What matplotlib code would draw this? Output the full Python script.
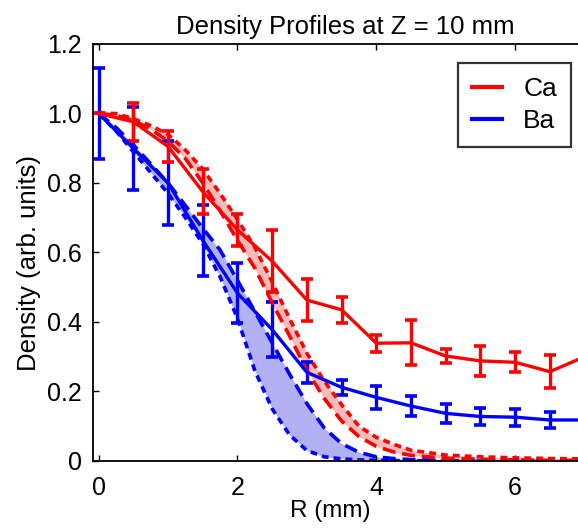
import matplotlib
matplotlib.use('Agg')
import matplotlib.pyplot as plt
from matplotlib.lines import Line2D
from matplotlib.ticker import FixedLocator, FuncFormatter

plt.rcParams['font.family'] = ['Liberation Sans', 'DejaVu Sans']

# measured profiles (points with error bars)
r_meas = [0, 0.5, 1.0, 1.5, 2.0, 2.5, 3.0, 3.5, 4.0, 4.5, 5.0, 5.5, 6.0, 6.5, 7.0]
ca_meas = [1.0, 0.976, 0.905, 0.775, 0.665, 0.575, 0.463, 0.435, 0.339, 0.340, 0.302, 0.288, 0.284, 0.257, 0.30]
ca_err = [0.0, 0.055, 0.045, 0.065, 0.045, 0.09, 0.06, 0.037, 0.024, 0.065, 0.021, 0.043, 0.029, 0.048, 0.04]
ba_meas = [1.0, 0.90, 0.80, 0.635, 0.483, 0.378, 0.255, 0.212, 0.183, 0.158, 0.137, 0.128, 0.126, 0.118, 0.118]
ba_err = [0.131, 0.12, 0.12, 0.102, 0.086, 0.08, 0.03, 0.022, 0.034, 0.028, 0.028, 0.024, 0.024, 0.024, 0.024]

# model curves (upper / lower bounds)
r_model = [0, 0.25, 0.5, 0.75, 1.0, 1.25, 1.5, 1.75, 2.0, 2.25, 2.5, 2.75, 3.0, 3.25, 3.5,
           3.75, 4.0, 4.25, 4.5, 5.0, 5.5, 6.0, 6.5, 7.0]
ca_hi = [1.0, 1.0, 0.985, 0.965, 0.94, 0.895, 0.84, 0.77, 0.695, 0.615, 0.515, 0.41, 0.31, 0.23,
         0.162, 0.1, 0.068, 0.048, 0.031, 0.017, 0.012, 0.009, 0.007, 0.006]
ca_lo = [1.0, 0.995, 0.98, 0.955, 0.92, 0.87, 0.80, 0.72, 0.635, 0.555, 0.455, 0.36, 0.26, 0.18,
         0.115, 0.07, 0.042, 0.026, 0.016, 0.008, 0.005, 0.003, 0.002, 0.002]
ba_hi = [1.0, 0.96, 0.91, 0.855, 0.80, 0.735, 0.67, 0.607, 0.52, 0.43, 0.34, 0.25, 0.165, 0.095,
         0.05, 0.025, 0.012, 0.007, 0.004, 0.002, 0.001, 0.001, 0.0, 0.0]
ba_lo = [1.0, 0.95, 0.89, 0.83, 0.77, 0.70, 0.625, 0.53, 0.41, 0.26, 0.15, 0.075, 0.03, 0.012,
         0.006, 0.003, 0.002, 0.001, 0.001, 0.0, 0.0, 0.0, 0.0, 0.0]

long_dash = (3.6, 1.9)
short_dash = (1.9, 1.4)

fig = plt.figure(figsize=(5.78, 5.32), dpi=100)
ax = fig.add_axes([0.1604, 0.1335, 0.851, 0.7838])

# Ba
ax.fill_between(r_model, ba_lo, ba_hi, color=(0.62, 0.62, 0.95), alpha=0.8, lw=0)
ax.plot(r_model, ba_hi, color='blue', lw=2.6, dashes=long_dash)
ax.plot(r_model, ba_lo, color='blue', lw=2.6, dashes=short_dash)
ax.errorbar(r_meas, ba_meas, yerr=ba_err, color='blue', lw=2.4, elinewidth=2.4,
            capsize=4, capthick=2.6)

# Ca
ax.fill_between(r_model, ca_lo, ca_hi, color=(0.96, 0.55, 0.55), alpha=0.6, lw=0)
ax.plot(r_model, ca_hi, color='red', lw=2.6, dashes=short_dash)
ax.plot(r_model, ca_lo, color='red', lw=2.6, dashes=long_dash)
ax.errorbar(r_meas, ca_meas, yerr=ca_err, color='red', lw=2.4, elinewidth=2.4,
            capsize=4, capthick=2.6)

ax.set_xlim(-0.085, 7.0)
ax.set_ylim(0, 1.2)
ax.xaxis.set_major_locator(FixedLocator([0, 2, 4, 6]))
ax.yaxis.set_major_locator(FixedLocator([0, 0.2, 0.4, 0.6, 0.8, 1.0, 1.2]))
ax.yaxis.set_major_formatter(FuncFormatter(lambda v, p: '0' if v == 0 else '%.1f' % v))
ax.tick_params(direction='in', length=4, width=1, labelsize=18, top=True, right=True)
ax.tick_params(axis='x', pad=11)
ax.tick_params(axis='y', pad=8)
for s in ax.spines.values():
    s.set_linewidth(1.3)

ax.set_xlabel('R (mm)', fontsize=17.5, labelpad=0, x=0.483)
ax.set_ylabel('Density (arb. units)', fontsize=18.5, labelpad=4, y=0.475)
ax.set_title('Density Profiles at Z = 10 mm', fontsize=18.5, pad=7, x=0.514)

handles = [Line2D([], [], color='red', lw=3), Line2D([], [], color='blue', lw=3)]
leg = ax.legend(handles, ['Ca', 'Ba'], loc='upper left', bbox_to_anchor=(0.743, 0.954),
                borderaxespad=0, fontsize=19, frameon=True, fancybox=False, edgecolor='black',
                handlelength=1.15, handletextpad=0.8, borderpad=0.52, labelspacing=0.31)
leg.get_frame().set_linewidth(1.6)

fig.savefig('out.png', dpi=100)
